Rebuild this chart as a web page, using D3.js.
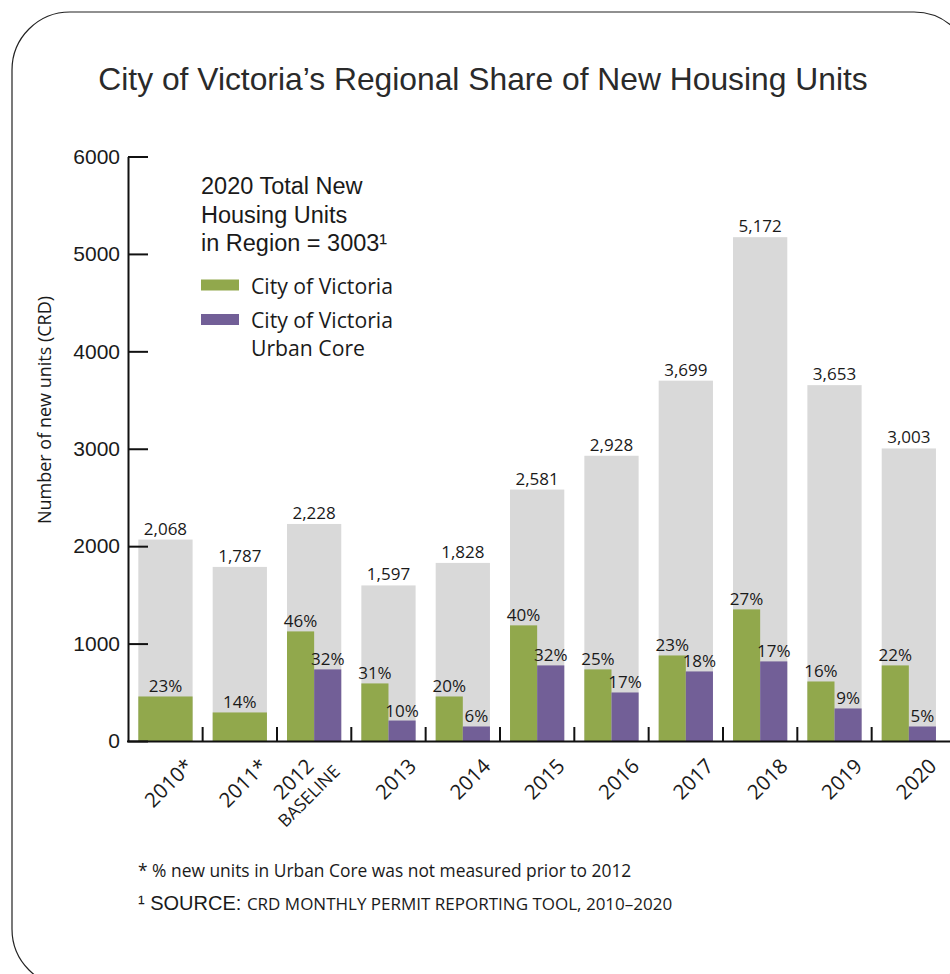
<!DOCTYPE html>
<meta charset="utf-8">
<head>
<style>
  body { margin: 0; background: #fff; }
  .sans { font-family: "Liberation Sans", Arial, sans-serif; }
  .myr { font-family: "Open Sans", sans-serif; }
  text { fill: #1a1a1a; }
</style>
</head>
<body>
<svg id="chart" width="950" height="974"></svg>
<script src="https://d3js.org/d3.v7.min.js"></script>
<script>
  // data
  var years = ["2010", "2011", "2012", "2013", "2014", "2015", "2016", "2017", "2018", "2019", "2020"];
  var yearNotes = ["*", "*", "", "", "", "", "", "", "", "", ""];
  var subLabels = ["", "", "BASELINE", "", "", "", "", "", "", "", ""];
  var totals = [2068, 1787, 2228, 1597, 1828, 2581, 2928, 3699, 5172, 3653, 3003];
  var cityUnits = [457, 293, 1125, 591, 457, 1187, 735, 878, 1351, 611, 776];
  var coreUnits = [null, null, 735, 210, 149, 776, 498, 714, 817, 334, 149];
  var cityPct = ["23%", "14%", "46%", "31%", "20%", "40%", "25%", "23%", "27%", "16%", "22%"];
  var corePct = [null, null, "32%", "10%", "6%", "32%", "17%", "18%", "17%", "9%", "5%"];
  var yTicks = [0, 1000, 2000, 3000, 4000, 5000, 6000];

  var grey = "#d9d9d9", green = "#91a84c", purple = "#725f97";

  var svg = d3.select("#chart");

  // frame
  svg.append("rect")
    .attr("x", 12).attr("y", 12)
    .attr("width", 960).attr("height", 975)
    .attr("rx", 58).attr("ry", 58)
    .attr("fill", "none").attr("stroke", "#222").attr("stroke-width", 1.2);

  // title
  svg.append("text").attr("class", "sans")
    .attr("x", 483).attr("y", 90)
    .attr("text-anchor", "middle")
    .style("font-size", "31.8px").style("fill", "#2a2a2a")
    .text("City of Victoria\u2019s Regional Share of New Housing Units");

  var x = d3.scaleBand().domain(years).range([128.3, 946]).paddingInner(0.27).paddingOuter(0.135);
  var y = d3.scaleLinear().domain([0, 6000]).range([741, 156.5]);

  var rows = years.map(function (d, i) {
    return { year: d, total: totals[i], city: cityUnits[i], core: coreUnits[i],
             cityPct: cityPct[i], corePct: corePct[i], note: yearNotes[i], sub: subLabels[i] };
  });

  var bw = x.bandwidth();

  // grey total bars
  svg.append("g").selectAll("rect").data(rows).enter().append("rect")
    .attr("x", function (d) { return x(d.year); })
    .attr("y", function (d) { return y(d.total); })
    .attr("width", bw)
    .attr("height", function (d) { return y(0) - y(d.total); })
    .attr("fill", grey);

  // city bars (full width when no urban core value)
  svg.append("g").selectAll("rect").data(rows).enter().append("rect")
    .attr("x", function (d) { return x(d.year); })
    .attr("y", function (d) { return y(d.city); })
    .attr("width", function (d) { return d.core == null ? bw : bw / 2; })
    .attr("height", function (d) { return y(0) - y(d.city); })
    .attr("fill", green);

  var coreRows = rows.filter(function (d) { return d.core != null; });
  svg.append("g").selectAll("rect").data(coreRows).enter().append("rect")
    .attr("x", function (d) { return x(d.year) + bw / 2; })
    .attr("y", function (d) { return y(d.core); })
    .attr("width", bw / 2)
    .attr("height", function (d) { return y(0) - y(d.core); })
    .attr("fill", purple);

  // value labels
  svg.append("g").selectAll("text").data(rows).enter().append("text").attr("class", "myr")
    .attr("x", function (d) { return x(d.year) + bw / 2; })
    .attr("y", function (d) { return y(d.total) - 5; })
    .attr("text-anchor", "middle").style("font-size", "17px")
    .text(function (d) { return d3.format(",")(d.total); });

  svg.append("g").selectAll("text").data(rows).enter().append("text").attr("class", "myr")
    .attr("x", function (d) { return x(d.year) + (d.core == null ? bw / 2 : bw / 4); })
    .attr("y", function (d) { return y(d.city) - 4; })
    .attr("text-anchor", "middle").style("font-size", "17px")
    .text(function (d) { return d.cityPct; });

  svg.append("g").selectAll("text").data(coreRows).enter().append("text").attr("class", "myr")
    .attr("x", function (d) { return x(d.year) + bw * 3 / 4; })
    .attr("y", function (d) { return y(d.core) - 4; })
    .attr("text-anchor", "middle").style("font-size", "17px")
    .text(function (d) { return d.corePct; });

  // y axis
  var yAxis = svg.append("g").attr("transform", "translate(128,0)")
    .call(d3.axisLeft(y).tickValues(yTicks).tickSize(-20).tickSizeOuter(0).tickPadding(8).tickFormat(d3.format("d")));
  yAxis.select(".domain").attr("stroke", "#111").attr("stroke-width", 2);
  yAxis.selectAll(".tick line").attr("stroke", "#111").attr("stroke-width", 2);
  yAxis.selectAll(".tick text").attr("class", "sans").style("font-size", "21px").attr("fill", "#1a1a1a");

  // x baseline and separators
  svg.append("line").attr("x1", 127).attr("x2", 950).attr("y1", y(0) + 0.5).attr("y2", y(0) + 0.5)
    .attr("stroke", "#111").attr("stroke-width", 2);
  var half = x.step() * x.paddingInner() / 2;
  svg.append("g").selectAll("line").data(years.slice(1)).enter().append("line")
    .attr("x1", function (d) { return x(d) - half; })
    .attr("x2", function (d) { return x(d) - half; })
    .attr("y1", y(0)).attr("y2", y(0) - 14)
    .attr("stroke", "#111").attr("stroke-width", 2);

  // x labels (anchored at the end, rotated)
  var xl = svg.append("g").selectAll("g").data(rows).enter().append("g")
    .attr("transform", function (d) {
      var ex = x(d.year) + bw / 2 + 29 - (d.sub ? 28 : 0);
      return "translate(" + ex + ",767.5) rotate(-45)";
    });
  xl.append("text").attr("class", "myr").style("font-size", "20.5px")
    .attr("text-anchor", "end")
    .text(function (d) { return d.year + d.note; });
  xl.filter(function (d) { return d.sub; }).append("text").attr("class", "myr")
    .attr("x", -64).attr("y", 22)
    .style("font-size", "17.5px")
    .text(function (d) { return d.sub; });

  // y axis title
  svg.append("text").attr("class", "myr")
    .attr("transform", "translate(51,410) rotate(-90)")
    .attr("text-anchor", "middle").style("font-size", "18px")
    .text("Number of new units (CRD)");

  // legend
  var legendHead = ["2020 Total New", "Housing Units", "in Region = 3003\u00b9"];
  svg.append("g").selectAll("text").data(legendHead).enter().append("text").attr("class", "sans")
    .attr("x", 201).attr("y", function (d, i) { return 194 + i * 28.5; })
    .style("font-size", "23.5px")
    .text(function (d) { return d; });

  var legendItems = [
    { color: green, lines: ["City of Victoria"] },
    { color: purple, lines: ["City of Victoria", "Urban Core"] }
  ];
  var lg = svg.append("g").selectAll("g").data(legendItems).enter().append("g")
    .attr("transform", function (d, i) { return "translate(201," + (279.5 + i * 34.5) + ")"; });
  lg.append("rect").attr("width", 38).attr("height", 11).attr("fill", function (d) { return d.color; });
  lg.each(function (d) {
    d3.select(this).selectAll("text").data(d.lines).enter().append("text").attr("class", "myr")
      .attr("x", 50).attr("y", function (t, j) { return 14 + j * 27.5; })
      .style("font-size", "21.2px")
      .text(function (t) { return t; });
  });

  // footnotes
  svg.append("text").attr("class", "myr")
    .attr("x", 138).attr("y", 877).style("font-size", "17.4px")
    .text("* % new units in Urban Core was not measured prior to 2012");
  var fn = svg.append("text").attr("x", 138).attr("y", 910);
  fn.append("tspan").attr("class", "sans").style("font-size", "20px").text("\u00b9 SOURCE: ");
  fn.append("tspan").attr("class", "myr").style("font-size", "17px").text("CRD MONTHLY PERMIT REPORTING TOOL, 2010\u20132020");
</script>
</body>
